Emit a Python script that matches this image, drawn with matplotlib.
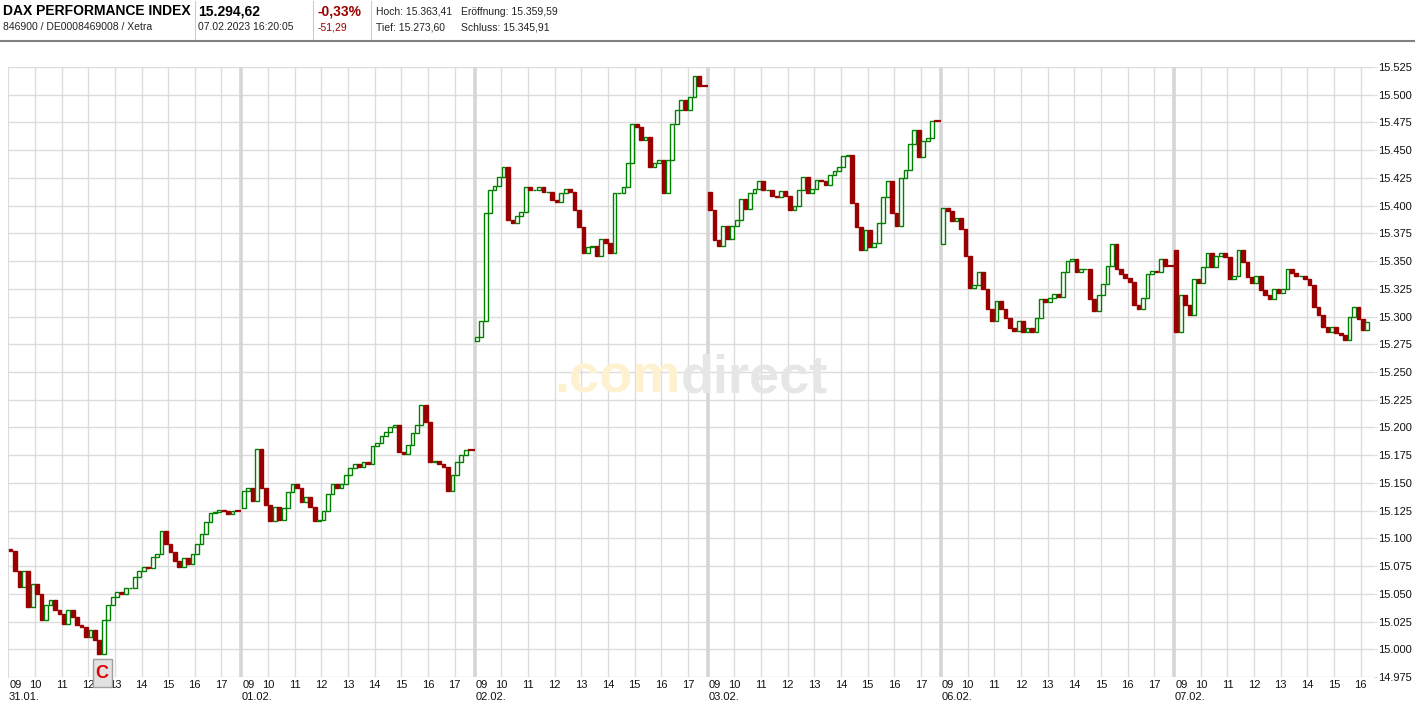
import matplotlib
matplotlib.use("Agg")
import matplotlib.pyplot as plt
from matplotlib.lines import Line2D
from matplotlib.patches import Rectangle
from matplotlib.transforms import blended_transform_factory

plt.rcParams["font.family"] = ["Liberation Sans", "DejaVu Sans"]

# --- data: 10-minute candles, close values per trading day ---
day_labels = ["31.01.", "01.02.", "02.02.", "03.02.", "06.02.", "07.02."]
day_opens = [15090, 15127, 15278, 15412, 15365, 15360]

closes_3101 = [15089, 15071, 15056, 15071, 15038, 15059, 15050, 15026, 15040, 15044,
               15035, 15032, 15023, 15035, 15029, 15022, 15020, 15011, 15017, 15008,
               14996, 15026, 15040, 15047, 15052, 15050, 15055, 15055, 15065, 15071,
               15074, 15073, 15083, 15086, 15107, 15095, 15088, 15080, 15074, 15082,
               15077, 15086, 15095, 15104, 15115, 15123, 15124, 15126, 15125, 15122,
               15125]
closes_0102 = [15143, 15145, 15134, 15181, 15145, 15130, 15116, 15128, 15117, 15127,
               15142, 15149, 15145, 15133, 15137, 15128, 15116, 15117, 15125, 15140,
               15149, 15145, 15149, 15157, 15163, 15167, 15164, 15169, 15167, 15183,
               15186, 15192, 15196, 15200, 15202, 15178, 15176, 15184, 15195, 15202,
               15220, 15205, 15169, 15170, 15167, 15164, 15143, 15157, 15169, 15175,
               15180]
closes_0202 = [15282, 15296, 15393, 15414, 15418, 15426, 15435, 15387, 15384, 15391,
               15394, 15417, 15414, 15414, 15417, 15412, 15412, 15405, 15403, 15411,
               15415, 15412, 15396, 15381, 15357, 15363, 15364, 15355, 15370, 15366,
               15357, 15411, 15411, 15417, 15438, 15474, 15471, 15459, 15462, 15435,
               15438, 15441, 15411, 15441, 15474, 15486, 15495, 15486, 15498, 15517,
               15508]
closes_0302 = [15396, 15369, 15364, 15382, 15370, 15382, 15387, 15406, 15397, 15411,
               15415, 15422, 15414, 15414, 15409, 15408, 15413, 15409, 15396, 15400,
               15414, 15426, 15411, 15415, 15423, 15422, 15419, 15428, 15431, 15435,
               15445, 15446, 15402, 15381, 15360, 15378, 15363, 15366, 15384, 15408,
               15422, 15393, 15382, 15425, 15432, 15456, 15468, 15444, 15458, 15461,
               15476]
closes_0602 = [15398, 15395, 15386, 15389, 15379, 15355, 15326, 15328, 15340, 15325,
               15307, 15296, 15314, 15307, 15299, 15290, 15287, 15296, 15286, 15290,
               15286, 15299, 15316, 15313, 15317, 15320, 15318, 15340, 15350, 15352,
               15340, 15343, 15343, 15316, 15305, 15319, 15329, 15346, 15365, 15343,
               15338, 15335, 15331, 15310, 15307, 15317, 15338, 15341, 15340, 15352,
               15346]
closes_0702 = [15286, 15319, 15310, 15301, 15334, 15330, 15345, 15357, 15345, 15355,
               15357, 15354, 15334, 15337, 15360, 15349, 15336, 15330, 15337, 15324,
               15319, 15316, 15325, 15321, 15325, 15343, 15339, 15337, 15337, 15334,
               15328, 15309, 15301, 15291, 15286, 15291, 15285, 15283, 15279, 15300,
               15309, 15298, 15288, 15295]
day_closes = [closes_3101, closes_0102, closes_0202, closes_0302, closes_0602, closes_0702]

hour_labels = ["09", "10", "11", "12", "13", "14", "15", "16", "17"]
last_day_hours = 8          # 07.02. shows 09..16
y_ticks = list(range(14975, 15526, 25))

header = {
    "name": "DAX PERFORMANCE INDEX",
    "ids": "846900 / DE0008469008 / Xetra",
    "last": "15.294,62",
    "time": "07.02.2023 16:20:05",
    "pct": "-0,33%",
    "abs": "-51,29",
    "hoch": "Hoch: 15.363,41",
    "eroeff": "Eröffnung: 15.359,59",
    "tief": "Tief: 15.273,60",
    "schluss": "Schluss: 15.345,91",
}

SESSION = 8.75   # chart hours per trading day (09:00 - 17:45)
GREEN = "#008000"
RED = "#9b0000"
GRID = "#dcdcdc"

W, H = 1415, 705
fig = plt.figure(figsize=(W / 100, H / 100), dpi=100)
ax = fig.add_axes([8.3 / W, 1 - 677 / H, 1365.7 / W, 610 / H])
ax.set_xlim(0, 5 * SESSION + 7.5)
ax.set_ylim(y_ticks[0], y_ticks[-1])

# grid
for y in y_ticks:
    ax.axhline(y, color=GRID, lw=1.0, zorder=0)
for d in range(len(day_labels)):
    n_hours = last_day_hours if d == len(day_labels) - 1 else len(hour_labels)
    for h in range(1, n_hours):
        ax.axvline(d * SESSION + h, color=GRID, lw=1.0, zorder=0)
    if d > 0:
        ax.axvline(d * SESSION, color="#d6d6d6", lw=2.6, zorder=0)

# watermark
ax.text(0.4926, 0.4656, ".com", transform=ax.transAxes, ha="right", va="baseline",
        fontsize=39, fontweight="bold", color="#fdf1cf", zorder=1)
ax.text(0.4926, 0.4656, "direct", transform=ax.transAxes, ha="left", va="baseline",
        fontsize=39, fontweight="bold", color="#e6e6e6", zorder=1)

# candles
for d, closes in enumerate(day_closes):
    opens = [day_opens[d]] + closes[:-1]
    for k, (o, c) in enumerate(zip(opens, closes)):
        x = d * SESSION + (k + 0.5) / 6
        if c >= o:
            ax.bar(x, c - o, bottom=o, width=0.14, color="white", edgecolor=GREEN,
                   linewidth=1.0, zorder=3)
        else:
            ax.bar(x, c - o, bottom=o, width=0.14, color=RED, edgecolor=RED,
                   linewidth=1.0, zorder=3)
    if d < len(day_closes) - 1:
        ax.hlines(closes[-1], d * SESSION + 8.5, d * SESSION + 8.75, color=RED,
                  lw=1.6, zorder=3)

# axes styling
for side in ["top", "right", "bottom"]:
    ax.spines[side].set_visible(False)
ax.spines["left"].set_color(GRID)
ax.set_xticks([])
ax.yaxis.tick_right()
ax.set_yticks(y_ticks)
ax.set_yticklabels([f"{v:,}".replace(",", ".") for v in y_ticks])
ax.tick_params(axis="y", length=2, color=GRID, pad=1, labelsize=8, labelcolor="#111111")

# x labels: hours and dates
trans = blended_transform_factory(ax.transData, fig.transFigure)
for d, lab in enumerate(day_labels):
    n_hours = last_day_hours if d == len(day_labels) - 1 else len(hour_labels)
    for h in range(n_hours):
        if h == 0:
            ax.text(d * SESSION + 0.04, 1 - 685 / H, hour_labels[h], transform=trans,
                    ha="left", va="center", fontsize=8, color="#111111")
        else:
            ax.text(d * SESSION + h, 1 - 685 / H, hour_labels[h], transform=trans,
                    ha="center", va="center", fontsize=8, color="#111111")
    ax.text(d * SESSION + 0.02, 1 - 697 / H, lab, transform=trans,
            ha="left", va="center", fontsize=8, color="#111111")

# "C" marker at the low of 31.01.
ax.add_patch(Rectangle((3.17, 1 - 687 / H), 0.71, 28 / H, transform=trans,
                       facecolor="#e2e2e2", edgecolor="#a0a0a0", lw=1.0,
                       clip_on=False, zorder=5))
ax.text(3.525, 1 - 674 / H, "C", transform=trans, ha="center", va="center",
        fontsize=13, fontweight="bold", color="#e00000", zorder=6)

# header
def htext(x, y, s, **kw):
    fig.text(x / W, 1 - y / H, s, va="center", ha="left", **kw)

htext(3, 11, header["name"], fontsize=10, fontweight="bold", color="black")
htext(3, 27, header["ids"], fontsize=7.5, color="#222222")
htext(198, 11, header["last"], fontsize=10, fontweight="bold", color="black")
htext(198, 27, header["time"], fontsize=7.5, color="#222222")
htext(318, 11, header["pct"], fontsize=10, fontweight="bold", color=RED)
htext(318, 27, header["abs"], fontsize=7.5, color=RED)
htext(376, 12, header["hoch"], fontsize=7.5, color="#222222")
htext(461, 12, header["eroeff"], fontsize=7.5, color="#222222")
htext(376, 27, header["tief"], fontsize=7.5, color="#222222")
htext(461, 27, header["schluss"], fontsize=7.5, color="#222222")

for xs in [195, 313, 371]:
    fig.add_artist(Line2D([xs / W, xs / W], [1 - 1 / H, 1 - 39 / H], color="#cccccc", lw=0.8))
fig.add_artist(Line2D([0, 1], [1 - 41 / H, 1 - 41 / H], color="#808080", lw=1.5))

fig.savefig("out.png", dpi=100)
